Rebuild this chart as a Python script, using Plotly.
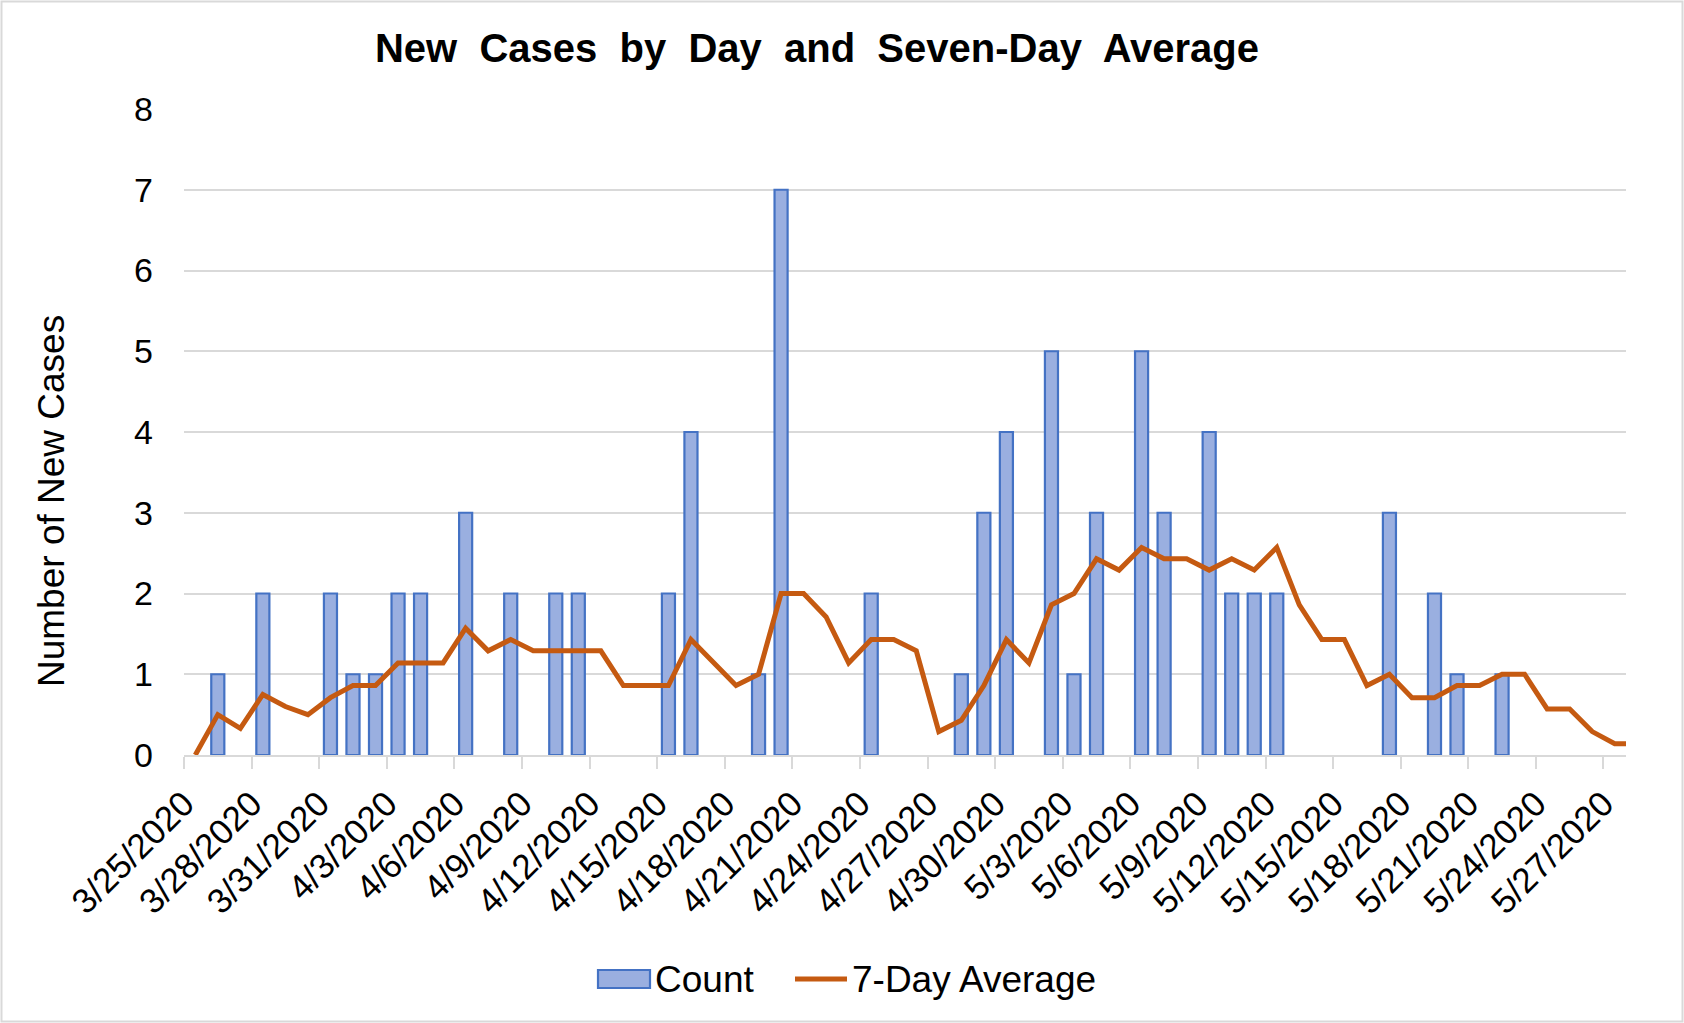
import plotly.graph_objects as go

# ---- data ----
dates = [
    "3/25/2020", "3/26/2020", "3/27/2020", "3/28/2020", "3/29/2020", "3/30/2020", "3/31/2020",
    "4/1/2020", "4/2/2020", "4/3/2020", "4/4/2020", "4/5/2020", "4/6/2020", "4/7/2020",
    "4/8/2020", "4/9/2020", "4/10/2020", "4/11/2020", "4/12/2020", "4/13/2020", "4/14/2020",
    "4/15/2020", "4/16/2020", "4/17/2020", "4/18/2020", "4/19/2020", "4/20/2020", "4/21/2020",
    "4/22/2020", "4/23/2020", "4/24/2020", "4/25/2020", "4/26/2020", "4/27/2020", "4/28/2020",
    "4/29/2020", "4/30/2020", "5/1/2020", "5/2/2020", "5/3/2020", "5/4/2020", "5/5/2020",
    "5/6/2020", "5/7/2020", "5/8/2020", "5/9/2020", "5/10/2020", "5/11/2020", "5/12/2020",
    "5/13/2020", "5/14/2020", "5/15/2020", "5/16/2020", "5/17/2020", "5/18/2020", "5/19/2020",
    "5/20/2020", "5/21/2020", "5/22/2020", "5/23/2020", "5/24/2020", "5/25/2020", "5/26/2020",
    "5/27/2020", "5/28/2020",
]

count = [
    0, 1, 0, 2, 0, 0, 2,
    1, 1, 2, 2, 0, 3, 0,
    2, 0, 2, 2, 0, 0, 0,
    2, 4, 0, 0, 1, 7, 0,
    0, 0, 2, 0, 0, 0, 1,
    3, 4, 0, 5, 1, 3, 0,
    5, 3, 0, 4, 2, 2, 2,
    0, 0, 0, 0, 3, 0, 2,
    1, 0, 1, 0, 0, 0, 0,
    0, 0,
]

avg7 = [
    0.00, 0.50, 0.33, 0.75, 0.60, 0.50, 0.71,
    0.86, 0.86, 1.14, 1.14, 1.14, 1.57, 1.29,
    1.43, 1.29, 1.29, 1.29, 1.29, 0.86, 0.86,
    0.86, 1.43, 1.14, 0.86, 1.00, 2.00, 2.00,
    1.71, 1.14, 1.43, 1.43, 1.29, 0.29, 0.43,
    0.86, 1.43, 1.14, 1.86, 2.00, 2.43, 2.29,
    2.57, 2.43, 2.43, 2.29, 2.43, 2.29, 2.57,
    1.86, 1.43, 1.43, 0.86, 1.00, 0.71, 0.71,
    0.86, 0.86, 1.00, 1.00, 0.57, 0.57, 0.29,
    0.14, 0.14,
]

tick_labels = [
    "3/25/2020", "3/28/2020", "3/31/2020", "4/3/2020", "4/6/2020", "4/9/2020",
    "4/12/2020", "4/15/2020", "4/18/2020", "4/21/2020", "4/24/2020", "4/27/2020",
    "4/30/2020", "5/3/2020", "5/6/2020", "5/9/2020", "5/12/2020", "5/15/2020",
    "5/18/2020", "5/21/2020", "5/24/2020", "5/27/2020",
]

# ---- layout geometry ----
W, H = 1684, 1023
ML, MR, MT, MB = 184, 58, 109, 268
PW, PH = W - ML - MR, H - MT - MB


def px_x(px):
    return (px - ML) / PW


def px_y(py):
    return (H - MB - py) / PH


FONT = "Liberation Sans, Arial, sans-serif"
BAR_FILL = "#9AAFE0"
BAR_EDGE = "#4472C4"
LINE_C = "#C55A11"
GRID_C = "#D9D9D9"

xs = list(range(len(dates)))
tickvals = [dates.index(t) - 0.5 for t in tick_labels]
x_last = dates.index(tick_labels[-1]) + 0.5
edge_w = [2.2 if c else 0 for c in count]

fig = go.Figure()
fig.add_trace(go.Bar(
    x=xs, y=count, name="Count", width=0.58,
    marker=dict(color=BAR_FILL, line=dict(color=BAR_EDGE, width=edge_w)),
    customdata=dates, hovertemplate="%{customdata}: %{y}<extra>Count</extra>",
    showlegend=False,
))
fig.add_trace(go.Scatter(
    x=xs, y=avg7, name="7-Day Average", mode="lines",
    line=dict(color=LINE_C, width=5),
    customdata=dates, hovertemplate="%{customdata}: %{y:.2f}<extra>7-Day Average</extra>",
    showlegend=False,
))

shapes = [
    # chart border
    dict(type="rect", xref="paper", yref="paper",
         x0=px_x(1.5), x1=px_x(W - 1.5), y0=px_y(H - 1.5), y1=px_y(1.5),
         line=dict(color=GRID_C, width=2), fillcolor="rgba(0,0,0,0)", layer="below"),
    # legend swatch: Count
    dict(type="rect", xref="paper", yref="paper",
         x0=px_x(598), x1=px_x(650), y0=px_y(988), y1=px_y(970),
         line=dict(color=BAR_EDGE, width=2.2), fillcolor=BAR_FILL),
    # legend swatch: 7-Day Average
    dict(type="line", xref="paper", yref="paper",
         x0=px_x(795), x1=px_x(847), y0=px_y(979), y1=px_y(979),
         line=dict(color=LINE_C, width=5)),
]

annotations = [
    dict(text="Count", xref="paper", yref="paper", x=px_x(653), y=px_y(979),
         xanchor="left", yanchor="middle", showarrow=False,
         font=dict(family=FONT, size=37, color="#000000")),
    dict(text="7-Day Average", xref="paper", yref="paper", x=px_x(850), y=px_y(979),
         xanchor="left", yanchor="middle", showarrow=False,
         font=dict(family=FONT, size=37, color="#000000")),
    dict(text="Number of New Cases", xref="paper", yref="paper", x=px_x(51), y=px_y(501),
         xanchor="center", yanchor="middle", showarrow=False, textangle=-90,
         font=dict(family=FONT, size=37, color="#000000")),
]

title_words = ["New", "Cases", "by", "Day", "and", "Seven-Day", "Average"]
title_text = "<b>" + "&nbsp; ".join(title_words) + "</b>"

fig.update_layout(
    width=W, height=H,
    margin=dict(l=ML, r=MR, t=MT, b=MB, pad=0),
    paper_bgcolor="#FFFFFF", plot_bgcolor="#FFFFFF",
    title=dict(text=title_text,
               xref="paper", x=px_x(817), xanchor="center",
               yref="container", y=1 - 48 / H, yanchor="middle",
               font=dict(family=FONT, size=40, color="#000000")),
    font=dict(family=FONT, color="#000000"),
    shapes=shapes,
    annotations=annotations,
    showlegend=False,
)
fig.update_xaxes(
    range=[-0.5, x_last],
    tickmode="array", tickvals=tickvals, ticktext=tick_labels,
    tickangle=-45, tickfont=dict(family=FONT, size=35, color="#000000"),
    ticks="outside", ticklen=12, tickwidth=2, tickcolor=GRID_C,
    showline=True, linecolor=GRID_C, linewidth=2,
    showgrid=False, zeroline=False,
)
fig.update_yaxes(
    range=[0, 8], dtick=1, tick0=0,
    tickfont=dict(family=FONT, size=34, color="#000000"),
    ticks="", ticklabelstandoff=30,
    showgrid=True, gridcolor=GRID_C, gridwidth=2,
    showline=False, zeroline=False,
)

fig.write_html("out.html", config={"displayModeBar": False})
with open("out.html", "r", encoding="utf-8") as f:
    html = f.read()
html = html.replace("<head>", "<head><style>html,body{margin:0;padding:0;}</style>", 1)
with open("out.html", "w", encoding="utf-8") as f:
    f.write(html)
